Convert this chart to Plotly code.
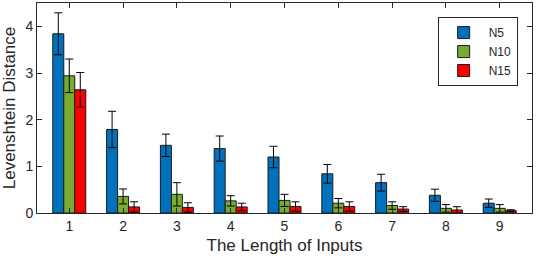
import plotly.graph_objects as go

groups = [1, 2, 3, 4, 5, 6, 7, 8, 9]
n5 = [3.84, 1.79, 1.45, 1.38, 1.20, 0.84, 0.65, 0.38, 0.21]
n5_err = [0.45, 0.39, 0.24, 0.27, 0.23, 0.20, 0.18, 0.13, 0.09]
n10 = [2.94, 0.355, 0.40, 0.26, 0.27, 0.21, 0.16, 0.10, 0.10]
n10_err = [0.36, 0.16, 0.25, 0.11, 0.13, 0.10, 0.08, 0.08, 0.08]
n15 = [2.64, 0.13, 0.12, 0.13, 0.14, 0.14, 0.085, 0.065, 0.05]
n15_err = [0.37, 0.11, 0.10, 0.08, 0.10, 0.10, 0.05, 0.07, 0.02]
series_names = ["N5", "N10", "N15"]
colors = ["#0072BD", "#77AC30", "#FF0000"]

fig = go.Figure()
for name, vals, errs, col in zip(series_names, [n5, n10, n15], [n5_err, n10_err, n15_err], colors):
    fig.add_trace(go.Bar(
        x=groups, y=vals, name=name,
        marker=dict(color=col, line=dict(color="#1a1a1a", width=1)),
        error_y=dict(type="data", array=errs, visible=True, color="black", thickness=1, width=4),
    ))

axis_common = dict(
    showline=True, linecolor="#262626", linewidth=1, mirror="ticks",
    ticks="inside", ticklen=5, tickcolor="#262626", showgrid=False, zeroline=False,
    automargin=False,
    tickfont=dict(family="Liberation Sans, Arial, sans-serif", size=14, color="#262626"),
)
fig.update_layout(
    width=536, height=262,
    margin=dict(l=37, r=4, t=3, b=49, autoexpand=False),
    paper_bgcolor="white", plot_bgcolor="white",
    barmode="group", bargap=0.387, bargroupgap=0,
    font=dict(family="Liberation Sans, Arial, sans-serif", size=14, color="#262626"),
    xaxis=dict(range=[0.4, 9.6], tickvals=groups, ticktext=[str(g) for g in groups],
               title=dict(text="The Length of Inputs", standoff=6), **axis_common),
    yaxis=dict(range=[0, 4.5], tickvals=[0, 1, 2, 3, 4],
               title=dict(text="Levenshtein Distance", standoff=6), **axis_common),
    legend=dict(x=0.971, y=0.933, xanchor="right", yanchor="top",
                bgcolor="white", bordercolor="#262626", borderwidth=1,
                font=dict(size=12), itemwidth=40, tracegroupgap=0),
    showlegend=True,
)
fig.write_html("out.html", config={"displayModeBar": False},
               post_script="document.body.style.margin='0';document.body.style.padding='0';")
